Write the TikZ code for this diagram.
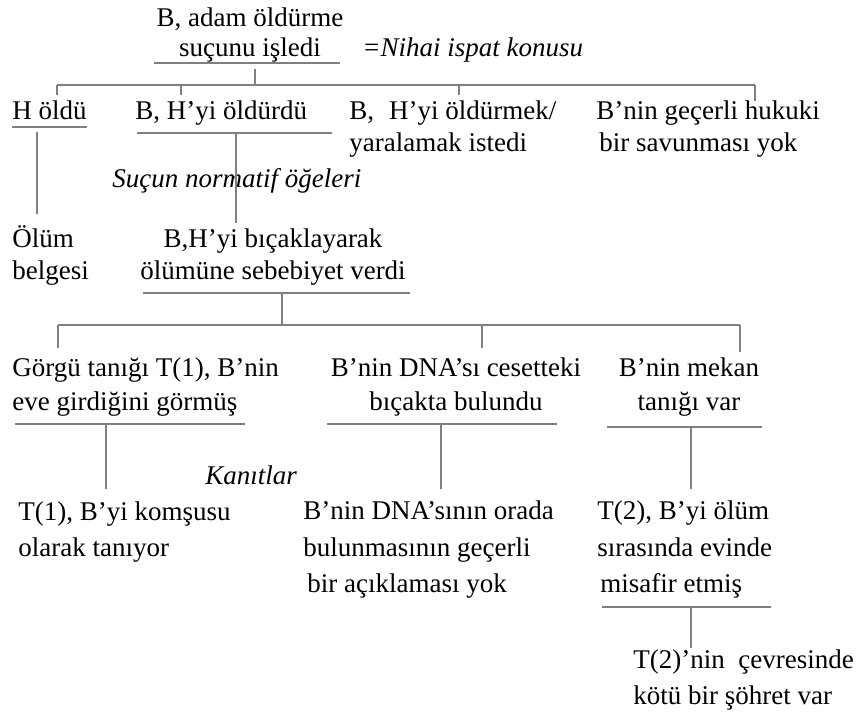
\documentclass[tikz,border=0pt]{standalone}
\usepackage{fontspec}
\setmainfont{Liberation Serif}[ItalicFont={Liberation Serif Italic}]
\usepackage{tikz}
\colorlet{hatgri}{black!50}

\begin{document}
\begin{tikzpicture}[x=0.5pt,y=-0.5pt,
  metin/.style={inner xsep=0pt,inner ysep=3pt,anchor=base west,align=left,
    font=\fontsize{13.5}{#1}\selectfont},
  metin/.default=16,
  etiket/.style={inner sep=0pt,anchor=base west,font=\fontsize{13.5}{16}\selectfont\itshape},
  hat/.style={draw=hatgri,line width=1pt}]
\useasboundingbox (0,0) rectangle (858,715);

% ispat konusu
\node[metin=15,anchor=base,align=center] (kok) at (250,57) {B, adam öldürme\\suçunu işledi};
\node[etiket] (nihai) at (362,57) {=Nihai ispat konusu};
\coordinate (a0) at (255,63);
\draw[hat] (a0) ++(-101,0) -- ++(186,0);

% normatif ogeler
\node[metin] (hol) at (12,120) {H öldü};
\node[metin] (bol) at (135,120) {B, H’yi öldürdü};
\node[metin] (bis) at (349,152) {B,\hspace{7.5pt}H’yi öldürmek/\\yaralamak istedi};
\node[metin,inner ysep=0pt] (bsa) at (596,152) {B’nin geçerli hukuki\\\hspace{1.5pt}bir savunması yok};
\node[etiket] (norm) at (112,188) {Suçun normatif öğeleri};
\coordinate (k1) at (255,85);
\coordinate (d1) at (57,85);
\coordinate (d2) at (181,85);
\coordinate (d3) at (459,85);
\coordinate (d4) at (755,85);
\draw[hat,shorten <=3pt] (a0) -- (k1);
\draw[hat] (d1) -- (d4);
\draw[hat] (d1) -- (d1 |- hol.north);
\draw[hat] (d2) -- (d2 |- bol.north);
\draw[hat] (d3) -- (d3 |- bis.north);
\draw[hat] (d4) -- (d4 |- bsa.north);

\node[metin,inner ysep=6pt] (olb) at (12,280) {Ölüm\\belgesi};
\node[metin,anchor=base,align=center] (bic) at (273,280) {B,H’yi bıçaklayarak\\ölümüne sebebiyet verdi};
\coordinate (a1) at (37,127);
\coordinate (a2) at (236,133);
\draw[hat] (a1) ++(-25,0) -- ++(75,0);
\draw[hat] (a2) ++(-99,0) -- ++(195,0);
\draw[hat,shorten <=2.5pt] (a1) -- (a1 |- olb.north);
\draw[hat] (a2) -- (a2 |- bic.north);

% kanitlar
\coordinate (a3) at (282,293);
\coordinate (k2) at (282,325);
\coordinate (e1) at (58,325);
\coordinate (e2) at (482,325);
\coordinate (e3) at (740,325);
\draw[hat] (a3) ++(-139,0) -- ++(267,0);
\draw[hat] (a3) -- (k2);
\draw[hat] (e1) -- (e3);
\node[metin=17,inner ysep=5pt] (gor) at (12,411) {Görgü tanığı T(1), B’nin\\eve girdiğini görmüş};
\node[metin=17,inner ysep=5pt,anchor=base,align=center] (dna) at (456,411) {B’nin DNA’sı cesetteki\\bıçakta bulundu};
\node[metin=17,anchor=base,align=center] (mek) at (689,411) {B’nin mekan\\tanığı var};
\draw[hat] (e1) -- (e1 |- gor.north);
\draw[hat] (e2) -- (e2 |- dna.north);
\draw[hat] (e3) -- (e3 |- mek.north);

\node[etiket] (kan) at (205,485) {Kanıtlar};
\coordinate (a4) at (106,424);
\coordinate (a5) at (441,424);
\coordinate (a6) at (691,427);
\draw[hat] (a4) ++(-91,0) -- ++(230,0);
\draw[hat] (a5) ++(-114,0) -- ++(230,0);
\draw[hat] (a6) ++(-84,0) -- ++(155,0);
\node[metin=18.25,inner ysep=6pt] (kom) at (18,557) {T(1), B’yi komşusu\\olarak tanıyor};
\node[metin=18.25,inner ysep=6pt] (acik) at (303,593) {B’nin DNA’sının orada\\bulunmasının geçerli\\\hspace{2pt}bir açıklaması yok};
\node[metin=18.25,inner ysep=6pt] (mis) at (597,593) {T(2), B’yi ölüm\\sırasında evinde\\\hspace{1.5pt}misafir etmiş};
\draw[hat] (a4) -- (a4 |- kom.north);
\draw[hat] (a5) -- (a5 |- acik.north);
\draw[hat] (a6) -- (a6 |- mis.north);

\coordinate (a7) at (691,607);
\draw[hat] (a7) ++(-89,0) -- ++(169,0);
\node[metin=18,inner ysep=1pt] (soh) at (633,705) {T(2)’nin\ \ çevresinde\\kötü bir şöhret var};
\draw[hat] (a7) -- (a7 |- soh.north);
\end{tikzpicture}
\end{document}
